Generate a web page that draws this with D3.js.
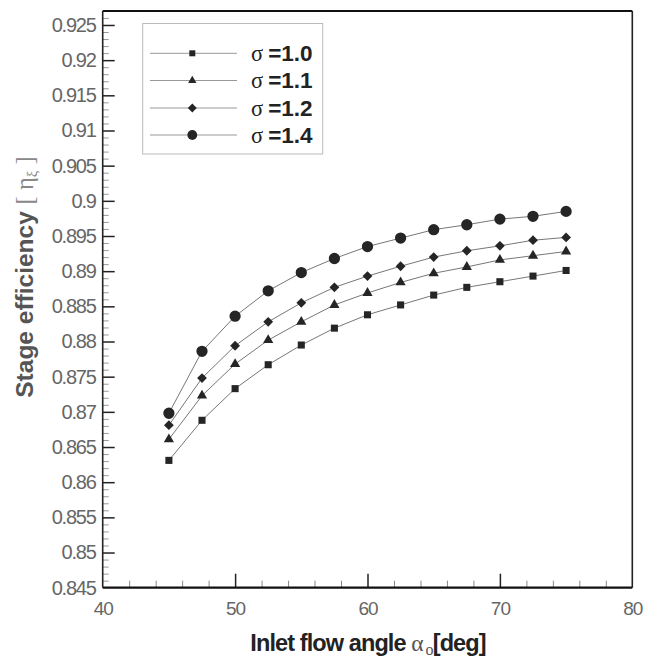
<!DOCTYPE html>
<html><head><meta charset="utf-8">
<script src="https://cdn.jsdelivr.net/npm/d3@7"></script>
<style>body{margin:0;background:#fff}svg{display:block}</style>
</head><body><svg id="c" width="648" height="659"></svg>
<script>
const angles = [45, 47.5, 50, 52.5, 55, 57.5, 60, 62.5, 65, 67.5, 70, 72.5, 75];
const sigma10 = [0.8631, 0.8688, 0.8733, 0.8767, 0.8795, 0.8819, 0.8838, 0.8852, 0.8866, 0.8877, 0.8885, 0.8893, 0.8901];
const sigma11 = [0.8661, 0.8723, 0.8768, 0.8802, 0.8828, 0.8852, 0.8869, 0.8884, 0.8897, 0.8906, 0.8916, 0.8922, 0.8928];
const sigma12 = [0.8681, 0.8748, 0.8794, 0.8828, 0.8855, 0.8877, 0.8893, 0.8907, 0.8920, 0.8929, 0.8936, 0.8944, 0.8948];
const sigma14 = [0.8698, 0.8786, 0.8836, 0.8872, 0.8898, 0.8918, 0.8935, 0.8947, 0.8959, 0.8966, 0.8974, 0.8978, 0.8985];
const seriesNames = ["=1.0", "=1.1", "=1.2", "=1.4"];
const seriesSymbols = ["square", "triangle", "diamond", "circle"];
const xTicks = [40, 50, 60, 70, 80];
const yTicks = [0.845, 0.85, 0.855, 0.86, 0.865, 0.87, 0.875, 0.88, 0.885, 0.89, 0.895, 0.9, 0.905, 0.91, 0.915, 0.92, 0.925];
const yTickLabels = ["0.845","0.85","0.855","0.86","0.865","0.87","0.875","0.88","0.885","0.89","0.895","0.9","0.905","0.91","0.915","0.92","0.925"];

const allSeries = [sigma10, sigma11, sigma12, sigma14];
const L = 102.7, R = 632.3, T = 11, B = 587.7;
const svg = d3.select("#c");
const x = d3.scaleLinear().domain([40, 80]).range([L, R]);
const y = d3.scaleLinear().domain([0.845, 0.845 + (B - T) / 35.17 * 0.005]).range([B, T]);

const xMinor = d3.range(40, 80.01, 2).filter(v => v % 10 !== 0);
const yMinor = d3.range(0, 83).map(i => 0.845 + i * 0.001).filter(v => Math.round(v * 1000) % 5 !== 0 && v < y.domain()[1]);

const g = svg.append("g");
const xAxis = d3.axisBottom(x).tickValues(xTicks).tickSize(-14).tickPadding(8).tickFormat(d3.format("d"));
const gx = g.append("g").attr("transform", `translate(0,${B})`).call(xAxis);
gx.select(".domain").remove();
gx.selectAll(".tick line").attr("stroke", "#222").attr("stroke-width", 1.5);
gx.selectAll(".tick text").attr("font-family", "Liberation Sans, Arial, sans-serif").attr("font-size", 19)
  .attr("fill", "#666").attr("letter-spacing", -1).attr("dy", "1em");
gx.selectAll(".tick").filter(d => d === 40 || d === 80).select("line").remove();

const gxm = g.append("g").attr("transform", `translate(0,${B})`).call(d3.axisBottom(x).tickValues(xMinor).tickSize(-7).tickFormat(""));
gxm.select(".domain").remove();
gxm.selectAll(".tick line").attr("stroke", "#888").attr("stroke-width", 1);

const yAxis = d3.axisLeft(y).tickValues(yTicks).tickSize(-12).tickPadding(6).tickFormat((d, i) => yTickLabels[i]);
const gy = g.append("g").attr("transform", `translate(${L},0)`).call(yAxis);
gy.select(".domain").remove();
gy.selectAll(".tick line").attr("stroke", "#222").attr("stroke-width", 1.5);
gy.selectAll(".tick text").attr("font-family", "Liberation Sans, Arial, sans-serif").attr("font-size", 20)
  .attr("fill", "#666").attr("letter-spacing", -1.2).attr("x", -7);
gy.selectAll(".tick").filter(d => d === 0.845).select("line").remove();

const gym = g.append("g").attr("transform", `translate(${L},0)`).call(d3.axisLeft(y).tickValues(yMinor).tickSize(-6).tickFormat(""));
gym.select(".domain").remove();
gym.selectAll(".tick line").attr("stroke", "#999").attr("stroke-width", 1);

g.append("line").attr("x1", L).attr("x2", R).attr("y1", B).attr("y2", B).attr("stroke", "#111").attr("stroke-width", 2.2);
g.append("line").attr("x1", L).attr("x2", R).attr("y1", T).attr("y2", T).attr("stroke", "#111").attr("stroke-width", 2.2);
g.append("line").attr("x1", L).attr("x2", L).attr("y1", T).attr("y2", B).attr("stroke", "#222").attr("stroke-width", 1.6);
g.append("line").attr("x1", R).attr("x2", R).attr("y1", T).attr("y2", B).attr("stroke", "#222").attr("stroke-width", 1.6);

const symSizes = {square: 50, triangle: 45, diamond: 48, circle: 100};
const symType = {square: d3.symbolSquare, triangle: d3.symbolTriangle, diamond: d3.symbolSquare, circle: d3.symbolCircle};
const symRot = {square: 0, triangle: 0, diamond: 45, circle: 0};
const line = d3.line().x((d, i) => x(angles[i])).y(d => y(d));

allSeries.forEach((vals, si) => {
  g.append("path").attr("d", line(vals)).attr("fill", "none").attr("stroke", "#777").attr("stroke-width", 1);
  const s = seriesSymbols[si];
  const sym = d3.symbol().type(symType[s]).size(symSizes[s]);
  g.selectAll(null).data(vals).enter().append("path")
    .attr("d", sym).attr("transform", (d, i) => `translate(${x(angles[i])},${y(d)}) rotate(${symRot[s]})`)
    .attr("fill", "#252525");
});

const lg = g.append("g");
lg.append("rect").attr("x", 142.7).attr("y", 23.5).attr("width", 180).attr("height", 130.5)
  .attr("fill", "#fff").attr("stroke", "#bbb").attr("stroke-width", 1);
const legY = [53.3, 80.5, 108, 135];
const legSizes = {square: 36, triangle: 30, diamond: 40, circle: 75};
seriesNames.forEach((n, i) => {
  const yy = legY[i];
  lg.append("line").attr("x1", 150).attr("x2", 237).attr("y1", yy).attr("y2", yy).attr("stroke", "#999").attr("stroke-width", 1);
  const s = seriesSymbols[i];
  lg.append("path").attr("d", d3.symbol().type(symType[s]).size(legSizes[s])).attr("transform", `translate(192.3,${yy}) rotate(${symRot[s]})`).attr("fill", "#252525");
  const t = lg.append("text").attr("x", 251).attr("y", yy + 7.5).attr("font-size", 22.5).attr("fill", "#222");
  t.append("tspan").attr("font-family", "Liberation Serif, Times New Roman, serif").attr("font-weight", "normal").text("σ");
  t.append("tspan").attr("font-family", "Liberation Sans, Arial, sans-serif").attr("font-weight", "bold").attr("dx", 5).text(n);
});

const xl = g.append("text").attr("x", 368).attr("y", 651).attr("text-anchor", "middle").attr("font-size", 23.5).attr("fill", "#222")
  .attr("font-family", "Liberation Sans, Arial, sans-serif").attr("font-weight", "bold").attr("letter-spacing", -0.9);
xl.append("tspan").text("Inlet flow angle ");
xl.append("tspan").attr("font-family", "Liberation Serif, Times New Roman, serif").attr("font-weight", "normal").attr("fill", "#555").attr("letter-spacing", 0).text("α");
xl.append("tspan").attr("font-family", "Liberation Serif, Times New Roman, serif").attr("font-weight", "normal").attr("fill", "#555").attr("font-size", 16).attr("dy", 4).attr("dx", 2).text("o");
xl.append("tspan").attr("dy", -4).text("[deg]");

const yl = g.append("text").attr("transform", "translate(33,277) rotate(-90)").attr("text-anchor", "middle").attr("font-size", 24.5).attr("fill", "#555")
  .attr("font-family", "Liberation Sans, Arial, sans-serif").attr("font-weight", "bold");
yl.append("tspan").text("Stage efficiency ");
yl.append("tspan").attr("font-family", "Liberation Serif, Times New Roman, serif").attr("font-weight", "normal").attr("fill", "#888").text("[ η");
yl.append("tspan").attr("font-family", "Liberation Serif, Times New Roman, serif").attr("font-weight", "normal").attr("fill", "#888").attr("font-size", 15).attr("dy", 4).text("ξ");
yl.append("tspan").attr("font-family", "Liberation Serif, Times New Roman, serif").attr("font-weight", "normal").attr("fill", "#888").attr("dy", -4).text(" ]");
</script></body></html>
